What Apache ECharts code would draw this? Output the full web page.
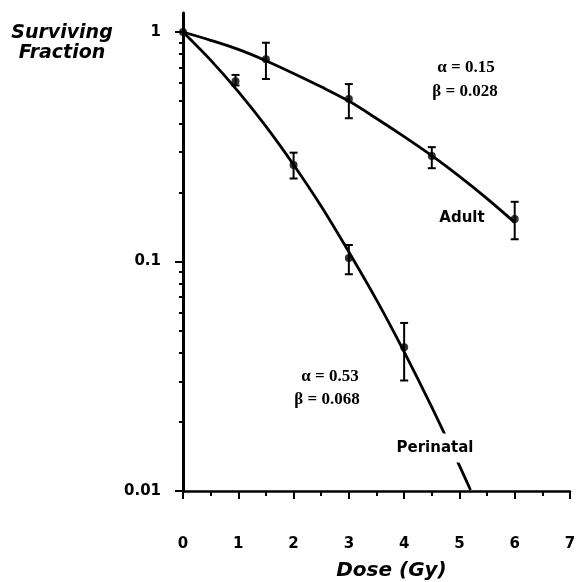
<!DOCTYPE html>
<html>
<head>
<meta charset="utf-8">
<script src="https://cdn.jsdelivr.net/npm/echarts@6/dist/echarts.min.js"></script>
<style>
  html, body { margin: 0; padding: 0; background: #fff; }
  #chart { width: 577px; height: 582px; }
</style>
</head>
<body>
<div id="chart"></div>
<script>
// Fitted survival curves (dose in Gy, surviving fraction)
const curveDoses = [0, 0.5, 1, 1.5, 2, 2.5, 3, 3.5, 4, 4.5, 5, 5.5, 6];
const adultCurve = [1, 0.92, 0.84, 0.75, 0.66, 0.577, 0.50, 0.42, 0.35, 0.289, 0.235, 0.188, 0.148];
const perinatalCurveDoses = [0, 0.5, 1, 1.5, 2, 2.5, 3, 3.5, 4, 4.5, 5, 5.2];
const perinatalCurve = [1, 0.754, 0.55, 0.388, 0.264, 0.174, 0.11, 0.068, 0.0404, 0.0232, 0.0129, 0.0101];

// Measured points with error bars
const adultDoses = [0, 1.5, 3, 4.5, 6];
const adultValues = [1, 0.76, 0.51, 0.288, 0.153];
const adultLow = [1, 0.624, 0.421, 0.255, 0.125];
const adultHigh = [1, 0.898, 0.593, 0.315, 0.182];

const perinatalDoses = [0.95, 2, 3, 4];
const perinatalValues = [0.61, 0.263, 0.1035, 0.0423];
const perinatalLow = [0.585, 0.230, 0.088, 0.0303];
const perinatalHigh = [0.65, 0.298, 0.118, 0.054];

// Axis ticks
const xTicks = [0, 1, 2, 3, 4, 5, 6, 7];
const yMajorTicks = [0.01, 0.1, 1];
const yTickLabels = ['0.01', '0.1', '1'];
const yMinorTicks = [0.02, 0.03, 0.04, 0.05, 0.06, 0.07, 0.08, 0.09,
                     0.2, 0.3, 0.4, 0.5, 0.6, 0.7, 0.8, 0.9];

const yMin = 0.01, yMax = 1.21;

const zip = (xs, ys) => xs.map((x, i) => [x, ys[i]]);
const errData = (xs, lo, hi) => xs.map((x, i) => [x, lo[i], hi[i]]);

const SANS = '"DejaVu Sans", "Liberation Sans", Arial, sans-serif';
const SERIF = '"Liberation Serif", "Times New Roman", serif';
const sansBold = { fontFamily: SANS, fontWeight: 'bold', color: '#000' };

function errorBar(params, api) {
  const x = api.value(0);
  const lo = api.coord([x, api.value(1)]);
  const hi = api.coord([x, api.value(2)]);
  const cap = 4;
  const style = { stroke: '#000', lineWidth: 2 };
  if (Math.abs(hi[1] - lo[1]) < 1) return null;
  return {
    type: 'group',
    children: [
      { type: 'line', shape: { x1: lo[0], y1: lo[1], x2: hi[0], y2: hi[1] }, style },
      { type: 'line', shape: { x1: lo[0] - cap, y1: lo[1], x2: lo[0] + cap, y2: lo[1] }, style },
      { type: 'line', shape: { x1: hi[0] - cap, y1: hi[1], x2: hi[0] + cap, y2: hi[1] }, style }
    ]
  };
}

const chart = echarts.init(document.getElementById('chart'), null, { renderer: 'canvas' });

chart.setOption({
  backgroundColor: '#fff',
  animation: false,
  grid: { left: 183, right: 7, top: 13, bottom: 91, containLabel: false, outerBoundsMode: 'none' },
  xAxis: {
    type: 'value',
    min: 0, max: 7, interval: 1,
    axisLine: { show: true, lineStyle: { color: '#000', width: 2.5 } },
    axisTick: { show: true, inside: false, length: 8, lineStyle: { color: '#000', width: 2 } },
    minorTick: { show: true, splitNumber: 2, length: 5, lineStyle: { color: '#000', width: 2 } },
    splitLine: { show: false },
    axisLabel: {
      margin: 46, fontSize: 15, ...sansBold,
      formatter: v => String(xTicks[Math.round(v)])
    },
    name: 'Dose (Gy)',
    nameLocation: 'middle',
    nameGap: 70,
    nameTextStyle: { fontSize: 20, fontStyle: 'italic', ...sansBold, padding: [0, 0, 0, 30] }
  },
  yAxis: [
    {
      type: 'log', logBase: 10, min: yMin, max: yMax, position: 'left', offset: 0,
      axisLine: { show: true, lineStyle: { color: '#000', width: 3 } },
      axisTick: { show: true, inside: false, length: 8, customValues: yMajorTicks, lineStyle: { color: '#000', width: 2 } },
      axisLabel: {
        margin: 22, fontSize: 15, ...sansBold, customValues: yMajorTicks,
        formatter: v => {
          const i = yMajorTicks.findIndex(t => Math.abs(Math.log10(t) - Math.log10(v)) < 0.01);
          return i >= 0 ? yTickLabels[i] : '';
        }
      },
      splitLine: { show: false },
      minorTick: { show: false }
    },
    {
      type: 'log', logBase: 10, min: yMin, max: yMax, position: 'left', offset: 0,
      axisLine: { show: false },
      axisTick: { show: true, inside: false, length: 4, customValues: yMinorTicks, lineStyle: { color: '#000', width: 2 } },
      axisLabel: { show: false },
      splitLine: { show: false }
    }
  ],
  series: [
    {
      name: 'Adult fit', type: 'line', smooth: 0.3, showSymbol: false, yAxisIndex: 0,
      data: zip(curveDoses, adultCurve),
      lineStyle: { color: '#000', width: 2.8 }, z: 2
    },
    {
      name: 'Perinatal fit', type: 'line', smooth: 0.3, showSymbol: false, yAxisIndex: 0,
      data: zip(perinatalCurveDoses, perinatalCurve),
      lineStyle: { color: '#000', width: 2.8 }, z: 2
    },
    {
      name: 'Adult error', type: 'custom', yAxisIndex: 0, renderItem: errorBar,
      data: errData(adultDoses, adultLow, adultHigh), z: 3
    },
    {
      name: 'Perinatal error', type: 'custom', yAxisIndex: 0, renderItem: errorBar,
      data: errData(perinatalDoses, perinatalLow, perinatalHigh), z: 3
    },
    {
      name: 'Adult', type: 'scatter', yAxisIndex: 0, symbol: 'circle', symbolSize: 8,
      itemStyle: { color: '#000' }, data: zip(adultDoses, adultValues), z: 4
    },
    {
      name: 'Perinatal', type: 'scatter', yAxisIndex: 0, symbol: 'circle', symbolSize: 8,
      itemStyle: { color: '#000' }, data: zip(perinatalDoses, perinatalValues), z: 4
    }
  ],
  graphic: [
    {
      type: 'text', x: 62, y: 43, z: 10,
      style: { text: 'Surviving\nFraction', font: 'italic bold 19px ' + SANS,
               fill: '#000', lineHeight: 20, align: 'center', verticalAlign: 'middle' }
    },
    {
      type: 'text', x: 466, y: 68, z: 10,
      style: { text: 'α = 0.15', font: 'bold 17px ' + SERIF, fill: '#000', align: 'center', verticalAlign: 'middle' }
    },
    {
      type: 'text', x: 465, y: 92, z: 10,
      style: { text: 'β = 0.028', font: 'bold 17px ' + SERIF, fill: '#000', align: 'center', verticalAlign: 'middle' }
    },
    {
      type: 'text', x: 462, y: 218, z: 10,
      style: { text: 'Adult', font: 'bold 15px ' + SANS, fill: '#000', align: 'center', verticalAlign: 'middle' }
    },
    {
      type: 'text', x: 330, y: 377, z: 10,
      style: { text: 'α = 0.53', font: 'bold 17px ' + SERIF, fill: '#000', align: 'center', verticalAlign: 'middle' }
    },
    {
      type: 'text', x: 327, y: 400, z: 10,
      style: { text: 'β = 0.068', font: 'bold 17px ' + SERIF, fill: '#000', align: 'center', verticalAlign: 'middle' }
    },
    {
      type: 'text', x: 435, y: 448, z: 10,
      style: { text: 'Perinatal', font: 'bold 15px ' + SANS, fill: '#000',
               align: 'center', verticalAlign: 'middle', backgroundColor: '#fff', padding: [7, 3, 7, 3] }
    }
  ]
});
</script>
</body>
</html>
